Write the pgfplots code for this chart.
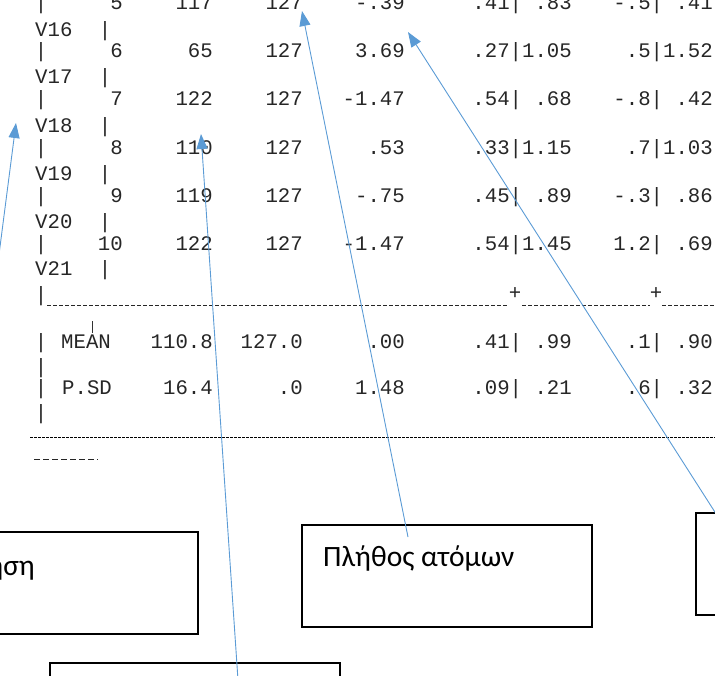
\documentclass[border=0pt]{standalone}
\usepackage{fontspec}
\setmonofont{Liberation Mono}
\newfontfamily\grk{Carlito}
\usepackage{pgfplots}
\pgfplotsset{compat=1.18}
\usetikzlibrary{arrows.meta}
\definecolor{callout}{RGB}{91,155,213}
\tikzset{tt/.style={font=\ttfamily\fontsize{20.7}{24}\selectfont, inner sep=0pt, text=black!85}}
% right aligned, left aligned, centred (all on the baseline)
\newcommand\R[3]{\node[tt,anchor=base east] at (axis cs:#1,#2) {#3};}
\newcommand\Lf[3]{\node[tt,anchor=base west] at (axis cs:#1,#2) {#3};}
\newcommand\C[3]{\node[tt,anchor=base] at (axis cs:#1,#2) {#3};}
\newcommand\Row[8]{\C{41}{#1}{|}\R{123}{#1}{#2}\R{213}{#1}{#3}\R{303}{#1}{#4}\R{405}{#1}{#5}\R{572}{#1}{#6}\R{713}{#1}{#7}}
\newcommand\Vrow[2]{\Lf{35}{#1}{#2}\C{105}{#1}{|}}
\begin{document}
\begin{tikzpicture}
\begin{axis}[
    scale only axis,
    width=715pt, height=675pt,
    xmin=0, xmax=715, ymin=0, ymax=675,
    y dir=reverse,
    axis lines=none,
    clip=true,
]
% table body
\Row{9}{5}{117}{127}{-.39}{.41|\ .83}{-.5|\ .41}{}
\Vrow{36}{V16}
\Row{57}{6}{65}{127}{3.69}{.27|1.05}{.5|1.52}{}
\Vrow{83}{V17}
\Row{105}{7}{122}{127}{-1.47}{.54|\ .68}{-.8|\ .42}{}
\Vrow{132}{V18}
\Row{154}{8}{110}{127}{.53}{.33|1.15}{.7|1.03}{}
\Vrow{180}{V19}
\Row{202}{9}{119}{127}{-.75}{.45|\ .89}{-.3|\ .86}{}
\Vrow{228}{V20}
\Row{250}{10}{122}{127}{-1.47}{.54|1.45}{1.2|\ .69}{}
\Vrow{275}{V21}
\C{41}{301}{|}
\C{515}{299}{+}
\C{656}{299}{+}
% summary rows
\C{41}{348}{|}
\Lf{61}{348}{MEAN}
\R{213}{348}{110.8}
\R{303}{348}{127.0}
\R{405}{348}{.00}
\R{572}{348}{.41|\ .99}
\R{713}{348}{.1|\ .90}
\C{41}{373}{|}
\C{41}{394}{|}
\Lf{62}{394}{P.SD}
\R{213}{394}{16.4}
\R{303}{394}{.0}
\R{405}{394}{1.48}
\R{572}{394}{.09|\ .21}
\R{713}{394}{.6|\ .32}
\C{41}{419}{|}
\addplot[black!80, line width=0.7pt, no marks] coordinates {(92,321) (92,333)};
% dashed rules
\addplot[black!85, line width=0.8pt, dash pattern=on 4pt off 2pt, no marks] coordinates {(47,305) (507,305)};
\addplot[black!85, line width=0.8pt, dash pattern=on 4pt off 2pt, no marks] coordinates {(522,305) (650,305)};
\addplot[black!85, line width=0.8pt, dash pattern=on 4pt off 2pt, no marks] coordinates {(662,305) (715,305)};
\addplot[black, line width=0.8pt, dash pattern=on 3pt off 1pt, no marks] coordinates {(30,437) (715,437)};
\addplot[black!85, line width=0.8pt, dash pattern=on 6pt off 3pt, no marks] coordinates {(34,459) (98,459)};
% callout boxes
\addplot[black, line width=1.6pt, no marks] coordinates {(-5,532) (198,532) (198,634) (-5,634)};
\addplot[black, line width=1.6pt, no marks] coordinates {(302,525) (592,525) (592,627) (302,627)} -- cycle;
\addplot[black, line width=1.6pt, no marks] coordinates {(725,513) (696,513) (696,615) (725,615)};
\addplot[black, line width=1.6pt, no marks] coordinates {(50,690) (50,663) (340,663) (340,690)};
\node[anchor=base east, inner sep=0pt, font=\grk\fontsize{29.5}{36}\selectfont] at (axis cs:35,575) {ηση};
\node[anchor=base west, inner sep=0pt, font=\grk\fontsize{29.5}{36}\selectfont] at (axis cs:323,566) {Πλήθος ατόμων};
% callout arrows
\addplot[callout, line width=0.9pt, no marks, -{Triangle[length=15pt,width=11pt]}] coordinates {(-3,270) (16,123)};
\addplot[callout, line width=0.9pt, no marks, -{Triangle[length=15pt,width=11pt]}] coordinates {(238,680) (201,134)};
\addplot[callout, line width=0.9pt, no marks, -{Triangle[length=15pt,width=11pt]}] coordinates {(408,537) (302,11)};
\addplot[callout, line width=0.9pt, no marks, -{Triangle[length=15pt,width=11pt]}] coordinates {(720,520) (408,32)};
\end{axis}
\pgfresetboundingbox
\useasboundingbox (0,0) rectangle (715pt,675pt);
\end{tikzpicture}
\end{document}
